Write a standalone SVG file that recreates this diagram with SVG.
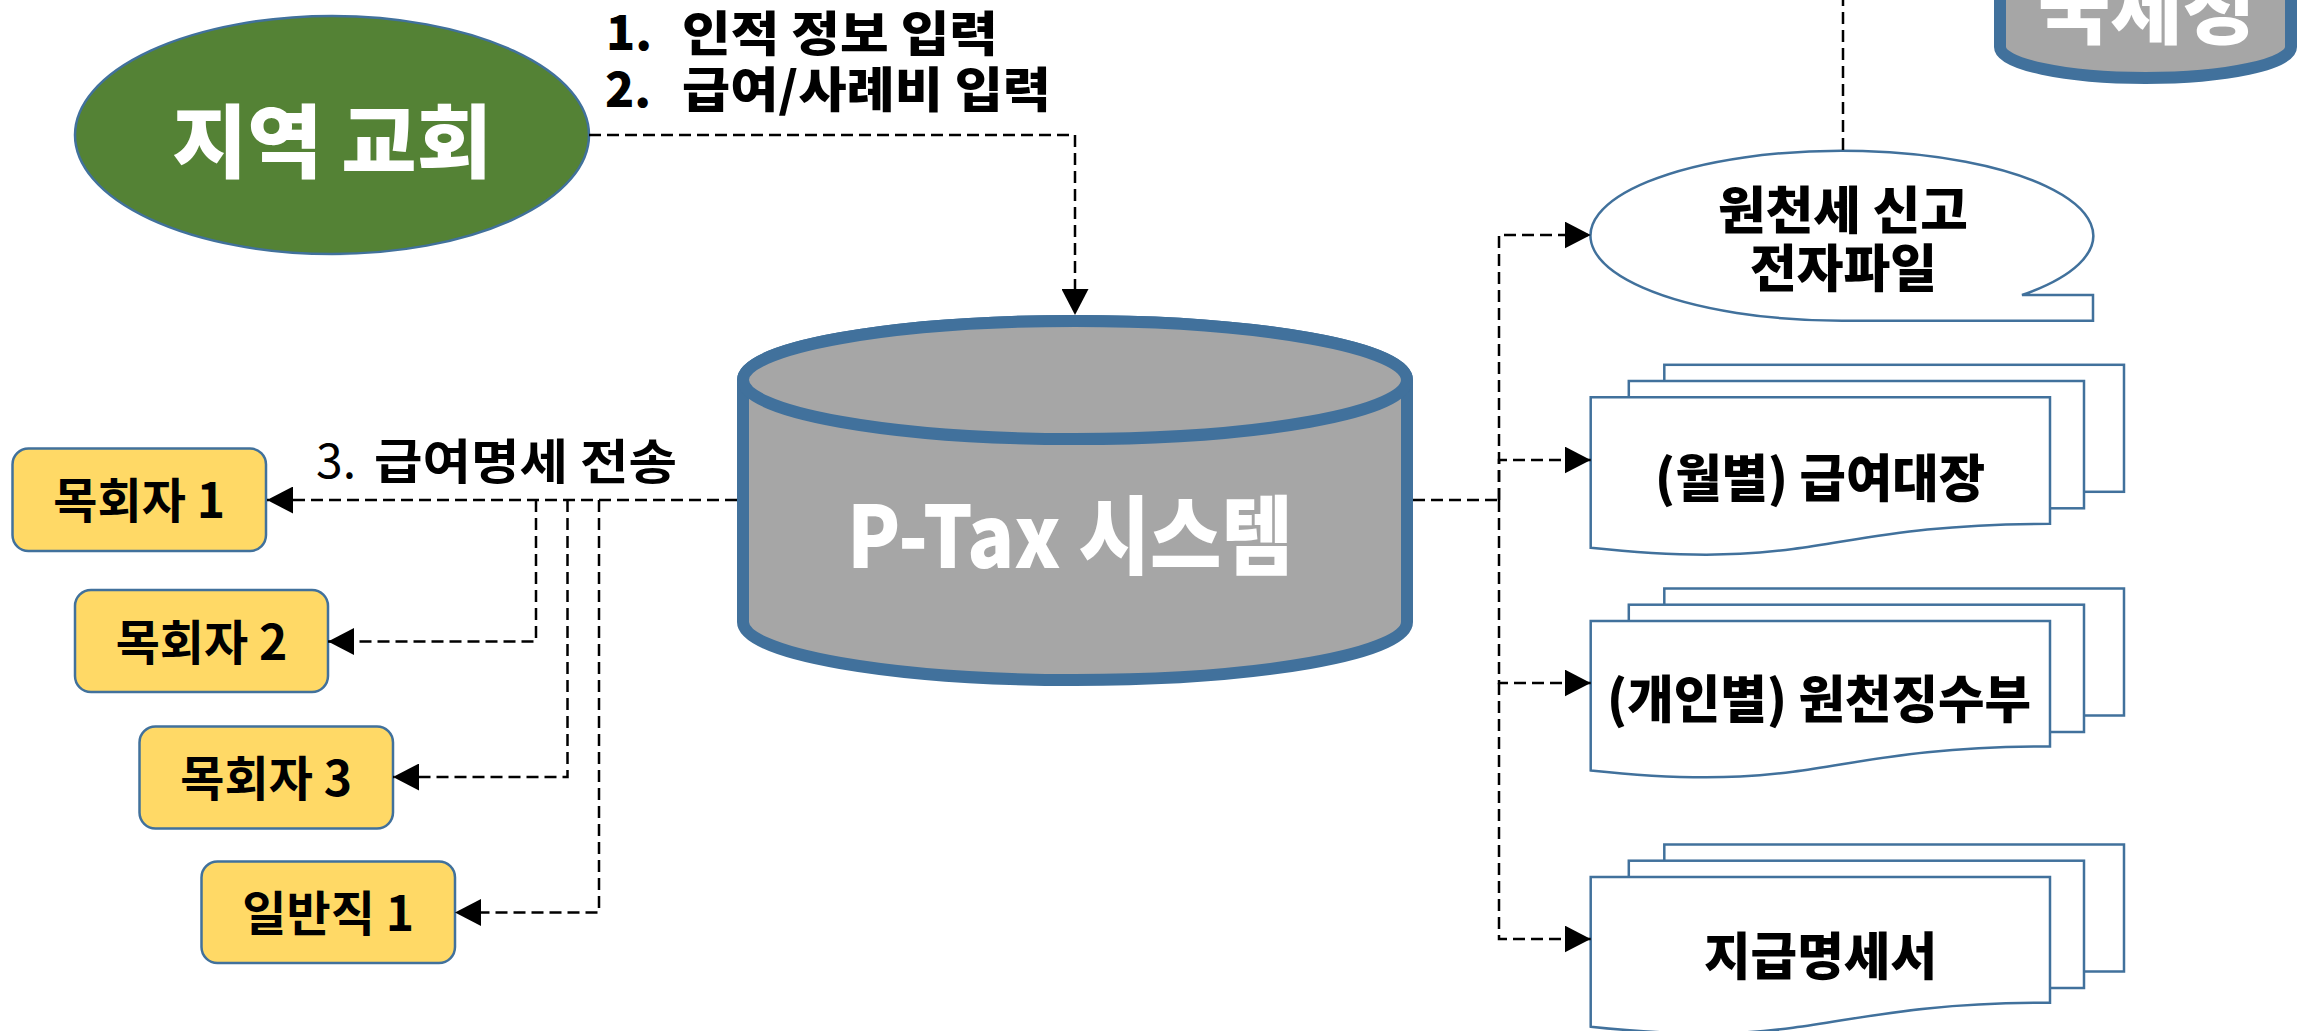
<svg xmlns="http://www.w3.org/2000/svg" width="2305" height="1031" viewBox="0 0 2305 1031">
<style>
text{font-family:"Noto Sans CJK KR","Noto Sans",sans-serif;font-weight:700}
.hv{font-weight:900}
.wt{fill:#fff}
.bk{fill:#000}
.box{fill:#FFD966;stroke:#41719C;stroke-width:2.5}
.cyl{fill:#A6A6A6;stroke:#41719C;stroke-width:12}
.doc{fill:#fff;stroke:#41719C;stroke-width:2.5}
.con{fill:none;stroke:#000;stroke-width:2.5;stroke-dasharray:12 6}
</style>
<defs>
<marker id="ah" markerUnits="userSpaceOnUse" markerWidth="26" markerHeight="27" refX="26" refY="13.5" orient="auto" viewBox="0 0 26 27">
<path d="M0 0L26 13.5L0 27Z" fill="#000"/>
</marker>
</defs>
<rect width="2305" height="1031" fill="#fff"/>

<g id="church">
<ellipse cx="332" cy="135" rx="257" ry="119" fill="#548235" stroke="#41719C" stroke-width="2.5"/>
<text class="wt hv" x="172" y="171" font-size="80" textLength="320" lengthAdjust="spacingAndGlyphs">지역 교회</text>
</g>

<g id="ptax">
<path class="cyl" d="M743 380A332 59 0 0 1 1407 380V622A332 58 0 0 1 743 622Z"/>
<ellipse class="cyl" cx="1075" cy="380" rx="332" ry="59"/>
<text class="wt hv" x="847" y="568" font-size="86" textLength="446" lengthAdjust="spacingAndGlyphs">P-Tax 시스템</text>
</g>

<g id="nts">
<path class="cyl" d="M2000 -150V47A145.5 31 0 0 0 2291 47V-150Z"/>
<text class="wt hv" x="2038" y="38" font-size="78" textLength="217" lengthAdjust="spacingAndGlyphs">국세청</text>
</g>

<g id="efile">
<path class="doc" d="M2093 320.7H1842A251.4 85 0 1 1 2022 295H2093Z"/>
<text class="bk hv" x="1718" y="229" font-size="51" textLength="250" lengthAdjust="spacingAndGlyphs">원천세 신고</text>
<text class="bk hv" x="1750" y="287" font-size="51" textLength="187" lengthAdjust="spacingAndGlyphs">전자파일</text>
</g>

<g id="doc1">
<g transform="translate(1590.7 397.3)">
<rect class="doc" x="73.6" y="-32.5" width="459.7" height="127"/>
<rect class="doc" x="38.1" y="-16.3" width="455.2" height="127.3"/>
<path class="doc" d="M0 0H459.3V126.5C229.6 126.5 229.6 175 0 150.5Z"/>
</g>
<text class="bk hv" x="1655" y="497" font-size="51" textLength="330" lengthAdjust="spacingAndGlyphs">(월별) 급여대장</text>
</g>

<g id="doc2">
<g transform="translate(1590.7 621)">
<rect class="doc" x="73.6" y="-32.5" width="459.7" height="127"/>
<rect class="doc" x="38.1" y="-16.3" width="455.2" height="127.3"/>
<path class="doc" d="M0 0H459.3V125.5C229.6 125.5 229.6 174 0 149.5Z"/>
</g>
<text class="bk hv" x="1607" y="718" font-size="51" textLength="424" lengthAdjust="spacingAndGlyphs">(개인별) 원천징수부</text>
</g>

<g id="doc3">
<g transform="translate(1590.7 877)">
<rect class="doc" x="73.6" y="-32.5" width="459.7" height="127"/>
<rect class="doc" x="38.1" y="-16.3" width="455.2" height="127.3"/>
<path class="doc" d="M0 0H459.3V125.7C229.6 125.7 229.6 174 0 149.7Z"/>
</g>
<text class="bk hv" x="1704" y="975" font-size="51" textLength="233" lengthAdjust="spacingAndGlyphs">지급명세서</text>
</g>

<g id="pastor1">
<rect class="box" x="12.5" y="448.5" width="253.5" height="102.5" rx="16"/>
<text class="bk" x="139.2" y="518" font-size="48" text-anchor="middle">목회자 1</text>
</g>
<g id="pastor2">
<rect class="box" x="75" y="590" width="253" height="102" rx="16"/>
<text class="bk" x="201.5" y="659.5" font-size="48" text-anchor="middle">목회자 2</text>
</g>
<g id="pastor3">
<rect class="box" x="139.5" y="726.5" width="253.5" height="102" rx="16"/>
<text class="bk" x="266.2" y="796" font-size="48" text-anchor="middle">목회자 3</text>
</g>
<g id="staff1">
<rect class="box" x="201.5" y="861.5" width="253.5" height="101.5" rx="16"/>
<text class="bk" x="328.2" y="931" font-size="48" text-anchor="middle">일반직 1</text>
</g>

<g id="labels">
<text class="bk hv" x="606" y="50" font-size="48">1.</text>
<text class="bk hv" x="682" y="51" font-size="48" textLength="316" lengthAdjust="spacingAndGlyphs">인적 정보 입력</text>
<text class="bk hv" x="605" y="107" font-size="48">2.</text>
<text class="bk hv" x="682" y="107" font-size="48" textLength="369" lengthAdjust="spacingAndGlyphs">급여/사례비 입력</text>
<text class="bk" x="316" y="478" font-size="48" style="font-weight:400">3.</text>
<text class="bk" x="374" y="479" font-size="48" textLength="303" lengthAdjust="spacingAndGlyphs">급여명세 전송</text>
</g>

<g id="connectors">
<path class="con" d="M589 135H1075V315" marker-end="url(#ah)"/>
<path class="con" d="M737 500H267" marker-end="url(#ah)"/>
<path class="con" d="M536 500V641.5H328" marker-end="url(#ah)"/>
<path class="con" d="M567.5 500V777H393" marker-end="url(#ah)"/>
<path class="con" d="M599 500V912.5H455" marker-end="url(#ah)"/>
<path class="con" d="M1413 500H1499"/>
<path class="con" d="M1499 500V235H1590.7" marker-end="url(#ah)"/>
<path class="con" d="M1499 500V460H1590.7" marker-end="url(#ah)"/>
<path class="con" d="M1499 500V683H1590.7" marker-end="url(#ah)"/>
<path class="con" d="M1499 683V939H1590.7" marker-end="url(#ah)"/>
<path class="con" d="M1843 150V-10"/>
</g>
</svg>
